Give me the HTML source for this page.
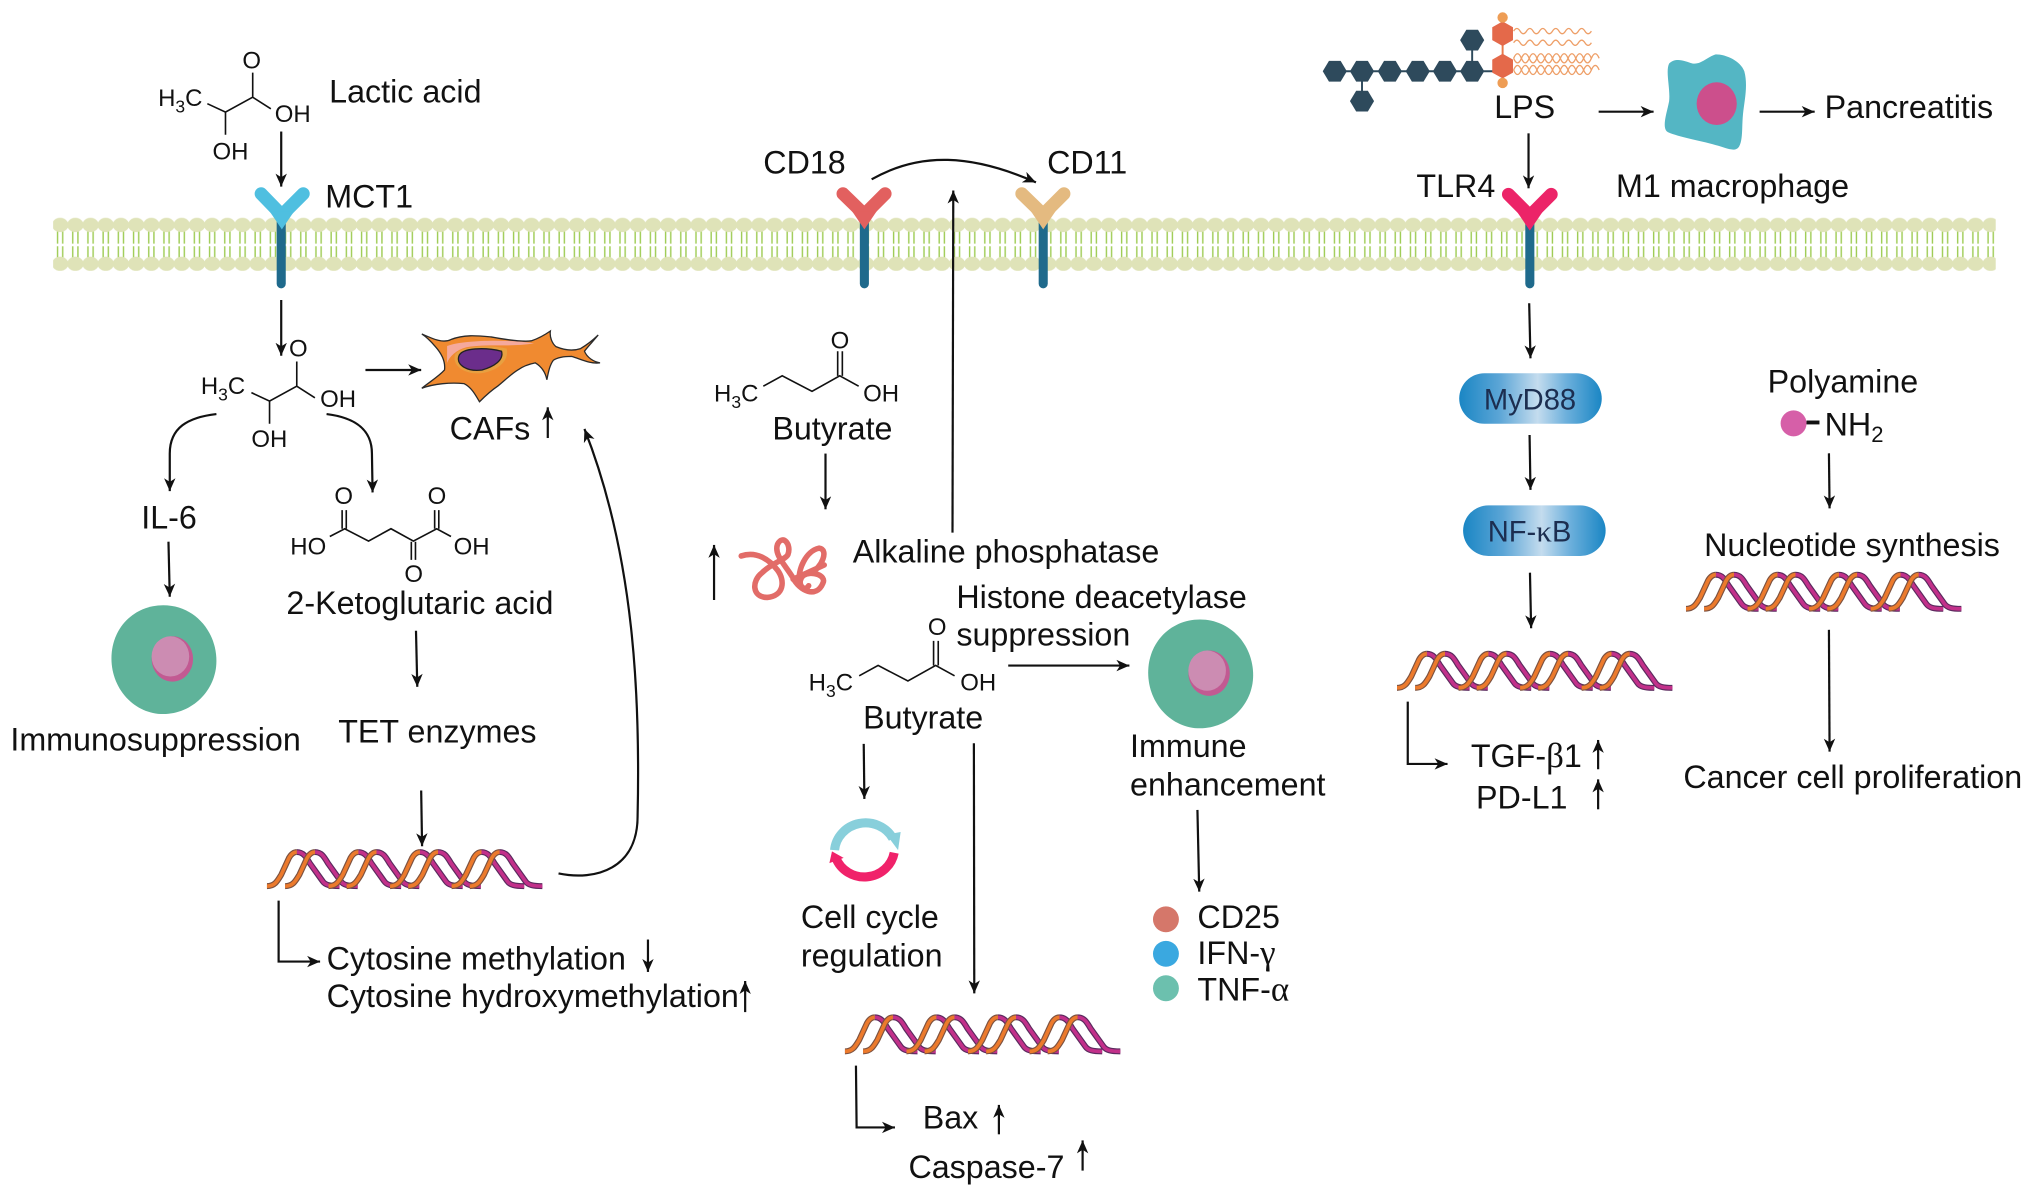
<!DOCTYPE html>
<html><head><meta charset="utf-8"><title>Diagram</title>
<style>
html,body{margin:0;padding:0;background:#fff;width:2032px;height:1196px;overflow:hidden}
svg{display:block}
text{font-family:"Liberation Sans",sans-serif;fill:#111;font-size:24.9px}
.c text,text.c{font-size:18.5px}
.g{font-family:"Liberation Serif",serif;font-size:27px}
.a{fill:none;stroke:#111;stroke-width:1.7;marker-end:url(#m)}
.b{fill:none;stroke:#111;stroke-width:1.25}
</style></head><body>
<svg width="2032" height="1196" viewBox="0 0 1568 922.9" preserveAspectRatio="none" xmlns="http://www.w3.org/2000/svg">
<defs>
<marker id="m" markerUnits="userSpaceOnUse" markerWidth="12" markerHeight="12" refX="10" refY="5" orient="auto"><path d="M0 .6L10 5L0 9.4L2.8 5Z" fill="#111"/></marker>
<pattern id="mem" patternUnits="userSpaceOnUse" x="40.5" y="168" width="11.73" height="41">
<g stroke="#9fcc55" stroke-width="1.1"><path d="M3.900 10.500V20M7.900 10.500V20M3.900 22V31M7.900 22V31"/></g>
<ellipse cx="5.9" cy="5.6" rx="6.3" ry="5.5" fill="#dfe3b8"/><ellipse cx="5.9" cy="35.6" rx="6.3" ry="5.5" fill="#dfe3b8"/>
</pattern>
<linearGradient id="pill" x1="0" x2="1" y1="0" y2="0"><stop offset="0" stop-color="#1a86c4"/><stop offset=".28" stop-color="#5ba5d6"/><stop offset=".55" stop-color="#c4dcee"/><stop offset=".75" stop-color="#6db0dc"/><stop offset="1" stop-color="#1a86c4"/></linearGradient>
<g id="fall"><path d="M23 1.500C28 1.500 30 5 33 10L43 24C45 27 49 27.800 56 27.800"/></g>
<g id="rise"><path d="M0 27.800C6 27.800 8 24 11 19L17 6C19 2.500 21 1.500 23 1.500"/></g>
<g id="fs"><use href="#fall" x="0"/><use href="#fall" x="14"/><use href="#fall" x="47.5"/><use href="#fall" x="61.5"/><use href="#fall" x="95"/><use href="#fall" x="109"/><use href="#fall" x="142.5"/><use href="#fall" x="156.5"/></g>
<g id="rs"><use href="#rise" x="0"/><use href="#rise" x="14"/><use href="#rise" x="47.5"/><use href="#rise" x="61.5"/><use href="#rise" x="95"/><use href="#rise" x="109"/><use href="#rise" x="142.5"/><use href="#rise" x="156.5"/></g>
<g id="dna" fill="none">
<use href="#fs" stroke="#5b2a5e" stroke-width="4.6"/><use href="#fs" stroke="#c2308a" stroke-width="2.8"/>
<use href="#rs" stroke="#7d5240" stroke-width="4.6"/><use href="#rs" stroke="#ec7a2c" stroke-width="2.8"/>
</g>
<g id="cell">
<path d="M126 467C150 467 167 487 167 510C167 533 148 551 126 551C104 551 86 532 86 508C86 485 103 467 126 467Z" fill="#5fb39a"/>
<ellipse cx="133" cy="508.5" rx="16" ry="17.5" fill="#c25a92"/>
<ellipse cx="131.5" cy="506.5" rx="14.5" ry="15.5" fill="#cc8cb2"/>
</g>
<g id="mol1" class="b">
<path d="M160 80L174 86.500L195 75L209 84M174 86.500V104M195 75V56"/>
</g>
<g id="but" class="b">
<path d="M589 298L603.600 290L626.600 302L648 290L662.600 298M646.400 271V290M650 271V290"/>
</g>
</defs>
<rect width="1568" height="923" fill="#fff"/>
<rect x="41" y="168" width="1499" height="41" fill="url(#mem)"/>

<!-- receptors -->
<g fill="none" stroke-linecap="round" stroke-linejoin="miter">
<path d="M667 170V219" stroke="#1f6a8c" stroke-width="7"/>
<path d="M805 170V219" stroke="#1f6a8c" stroke-width="7"/>
<path d="M217 170V219" stroke="#1f6a8c" stroke-width="7"/>
<path d="M1180.500 170V219" stroke="#1f6a8c" stroke-width="7"/>
<path d="M201.500 149.500L217.500 166L234 149.500" stroke="#4fbfe0" stroke-width="10"/>
<path d="M650.500 149.500L667 165.500L683 149.500" stroke="#e2605f" stroke-width="10"/>
<path d="M788.500 149.500L805 165.500L821 149.500" stroke="#e4ba80" stroke-width="10"/>
<path d="M1164 150L1180.500 166.500L1197 150" stroke="#ec2468" stroke-width="10"/>
</g>
<path d="M208 163L227 163L217.500 177Z" fill="#4fbfe0"/>
<path d="M657.500 163L676.500 163L667 177Z" fill="#e2605f"/>
<path d="M795.500 163L814.500 163L805 177Z" fill="#e4ba80"/>
<path d="M1171 164L1190 164L1180.500 178Z" fill="#ec2468"/>

<!-- lactic acid -->
<use href="#mol1"/>
<text class="c" x="122" y="82">H<tspan font-size="13.500" dy="5">3</tspan><tspan dy="-5">C</tspan></text>
<text class="c" x="187" y="53">O</text><text class="c" x="212" y="94">OH</text><text class="c" x="164" y="123">OH</text>
<use href="#mol1" x="34" y="223"/>
<text class="c" x="155" y="304">H<tspan font-size="13.500" dy="5">3</tspan><tspan dy="-5">C</tspan></text>
<text class="c" x="223" y="275">O</text><text class="c" x="247" y="314">OH</text><text class="c" x="194" y="345">OH</text>

<!-- keto -->
<g class="b"><path d="M254.500 414L266 408L284.400 417.500L301.700 408L319 417.500L337 408L348 414M264 393.600V408M267.200 393.600V408M335.400 393.600V408M338.600 393.600V408M317.400 418V432M320.600 418V432"/></g>
<text class="c" x="224" y="428">HO</text><text class="c" x="258" y="389">O</text><text class="c" x="330" y="389">O</text><text class="c" x="350" y="428">OH</text><text class="c" x="312" y="449">O</text>

<!-- butyrate -->
<use href="#but"/>
<text class="c" x="551" y="310">H<tspan font-size="13.500" dy="5">3</tspan><tspan dy="-5">C</tspan></text>
<text class="c" x="641" y="269">O</text><text class="c" x="666" y="310">OH</text>
<use href="#but" x="74" y="223.500"/>
<text class="c" x="624" y="533">H<tspan font-size="13.500" dy="5">3</tspan><tspan dy="-5">C</tspan></text>
<text class="c" x="716" y="490">O</text><text class="c" x="741" y="533">OH</text>

<!-- CAF -->
<path d="M325.500 257.700C335 262 342 265 348 262C358 258 368 259 379 260C390 262 402 264 410 263C416 261 421 258 424.700 255.400C424 260 426 265 429 267.500C435 270 442 271 448 269C453 266 458 262 461.600 258.500C458 263 454 267 451 271C453 276 458 279 463 280C455 281 448 277 441 275C435 275 430 276 427 278C424 282 423 288 422 293C421 288 418 283 413 280C408 281 403 283 399.600 285.500C394 289 389 294 384 298C378 302 374 306 370 310C367 305 364 299 358 296C348 295 335 296 325.500 299.600C331 295 338 291 343 285.500C344 278 340 272 336 267.500C333 264 329 260 325.500 257.700Z" fill="#f08a30" stroke="#2a2a2a" stroke-width="1"/>
<path d="M345 267C358 262 395 262 412 265C395 268 375 265 360 268C352 270 347 275 345 280Z" fill="#f5a99c"/>
<path d="M351 274C354 267 378 266 391 269C393 278 385 286 371 288C358 289 349 282 351 274Z" fill="#e8a040"/>
<path d="M354 275C356 268 375 268 387 271C389 278 381 283 372 285.500C361 287 352 282 354 275Z" fill="#6b2d8b" stroke="#222" stroke-width="1"/>

<!-- LPS -->
<g stroke="#2e4a5c" stroke-width="1.500"><path d="M1030 55H1160M1051 55V78M1136 55V31"/></g>
<g fill="#2e4a5c">
<path id="h" d="M1020.700 55L1025.500 47H1034.500L1039.300 55L1034.500 63H1025.500Z"/>
<use href="#h" x="21"/><use href="#h" x="42.500"/><use href="#h" x="64"/><use href="#h" x="85"/><use href="#h" x="106"/>
<use href="#h" x="106" y="-24"/><use href="#h" x="21" y="23"/>
</g>
<path d="M1159.500 14V64" stroke="#e87a4a" stroke-width="1.500"/>
<g fill="#e4694a"><path id="oh" d="M1159.500 16.500L1167.500 21V31L1159.500 35.500L1151.500 31V21Z"/><use href="#oh" y="25"/></g>
<circle cx="1159.500" cy="13.500" r="4" fill="#ee9d55"/><circle cx="1159.500" cy="64" r="4" fill="#ee9d55"/>
<g fill="none" stroke="#ee9f68" stroke-width="1">
<path d="M1168 24q2.500-4 5 0q2.500 4 5 0q2.500-4 5 0q2.500 4 5 0q2.500-4 5 0q2.500 4 5 0q2.500-4 5 0q2.500 4 5 0q2.500-4 5 0q2.500 4 5 0q2.500-4 5 0q2.500 4 5 0"/>
<path d="M1168 33q2.500-4 5 0q2.500 4 5 0q2.500-4 5 0q2.500 4 5 0q2.500-4 5 0q2.500 4 5 0q2.500-4 5 0q2.500 4 5 0q2.500-4 5 0q2.500 4 5 0q2.500-4 5 0q2.500 4 5 0"/>
<path d="M1168 45q3-7 6 0q3 7 6 0q3-7 6 0q3 7 6 0q3-7 6 0q3 7 6 0q3-7 6 0q3 7 6 0q3-7 6 0q3 7 6 0q3-7 6 0"/>
<path d="M1168 45q3 7 6 0q3-7 6 0q3 7 6 0q3-7 6 0q3 7 6 0q3-7 6 0q3 7 6 0q3-7 6 0q3 7 6 0q3-7 6 0"/>
<path d="M1168 54q3-7 6 0q3 7 6 0q3-7 6 0q3 7 6 0q3-7 6 0q3 7 6 0q3-7 6 0q3 7 6 0q3-7 6 0q3 7 6 0q3-7 6 0"/>
<path d="M1168 54q3 7 6 0q3-7 6 0q3 7 6 0q3-7 6 0q3 7 6 0q3-7 6 0q3 7 6 0q3-7 6 0q3 7 6 0q3-7 6 0"/>
</g>

<!-- macrophage -->
<path d="M1288 49C1293 44 1300 47 1306 49C1313 50 1317 44 1324 42C1332 42 1343 47 1346 55C1349 66 1346 78 1345 88C1344 98 1345 108 1342 113C1339 118 1332 114 1324 112C1310 108 1296 106 1287 102C1282 99 1286 88 1288 78C1289 68 1285 55 1288 49Z" fill="#54b6c4"/>
<ellipse cx="1324.700" cy="80" rx="15.500" ry="16.500" fill="#cc4f8c"/>

<!-- cells -->
<use href="#cell"/><use href="#cell" x="800" y="11"/>

<!-- tangled protein -->
<path d="M572 429C584 425 594 432 600 440C606 448 605 460 592 461C580 461 580 448 588 442C596 434 606 432 608 428C611 420 604 412 600 420C597 428 606 436 612 446C617 456 630 462 635 450C638 444 626 440 620 444C614 449 620 458 624 452M617 450C615 440 622 425 632 423C640 424 634 438 626 442M636 436L612 447" fill="none" stroke="#e26c68" stroke-width="4.300" stroke-linecap="round"/>

<!-- cell cycle -->
<g fill="none" stroke-width="7">
<path d="M644 656A24 23 0 0 1 689 647" stroke="#88cfdb"/>
<path d="M690 658A23.500 23 0 0 1 645 662" stroke="#f0226a"/>
</g>
<path d="M684 644L695 642L693 656Z" fill="#88cfdb"/><path d="M640 666L642 657L651 662Z" fill="#f0226a"/>

<!-- pills -->
<rect x="1126" y="288" width="110" height="39" rx="19.500" fill="url(#pill)"/>
<rect x="1129" y="390" width="110" height="39" rx="19.500" fill="url(#pill)"/>
<text x="1145" y="316" style="font-size:22.500px;fill:#1c2e50">MyD88</text>
<text x="1148" y="418" style="font-size:22.500px;fill:#1c2e50">NF-<tspan class="g" style="font-size:24px">κ</tspan>B</text>

<!-- polyamine -->
<circle cx="1384" cy="326.700" r="10" fill="#d65fa8"/><path d="M1394 326H1404" stroke="#111" stroke-width="3"/>

<!-- DNA -->
<use href="#dna" x="206" y="656"/><use href="#dna" x="652" y="783.500"/><use href="#dna" x="1078" y="503"/><use href="#dna" x="1301" y="442"/>

<!-- legend dots -->
<circle cx="899.700" cy="709.400" r="10" fill="#d5776a"/><circle cx="899.700" cy="736" r="10" fill="#3aa8e0"/><circle cx="899.700" cy="762.600" r="10" fill="#6cc0ae"/>

<!-- arrows -->
<path class="a" d="M217 101.500V144"/><path class="a" d="M217 231.500V274.500"/><path class="a" d="M282 285.500H325"/>
<path class="a" d="M167 319.500C145 322 131 330 131 350V379"/><path class="a" d="M252 319.500C272 322 287 330 287 350L287.500 380"/>
<path class="a" d="M130 418L131 460.500"/><path class="a" d="M321 486.700L322 530"/><path class="a" d="M325 610L325.700 653"/>
<path class="a" d="M672.600 138.400C710 117 750 119 799.400 140.700"/><path class="a" d="M735 411L735.600 147"/>
<path class="a" d="M637 350V393"/><path class="a" d="M551 463V420.500"/><path class="a" d="M778 513.600H871.500"/>
<path class="a" d="M666.500 574L667 616.500"/><path class="a" d="M751.500 573.500L751.800 766.500"/><path class="a" d="M924 625L925.400 688"/>
<path class="a" d="M660.500 822.300L661 870H690.600"/><path class="a" d="M770.800 875.300V852.600"/><path class="a" d="M835.400 903.300V880"/>
<path class="a" d="M1179.500 102.900V145.300"/><path class="a" d="M1233.600 86.200H1276"/><path class="a" d="M1357.800 86.200H1400.300"/>
<path class="a" d="M1180 234L1181 276.500"/><path class="a" d="M1180.300 335.700L1181 378"/><path class="a" d="M1180.600 441.900L1181.500 484.800"/>
<path class="a" d="M1086.300 541.400V589.500H1117"/><path class="a" d="M1233.200 593.600V571"/><path class="a" d="M1233.200 624.500V601.400"/>
<path class="a" d="M1411.300 349.800L1411.800 392.300"/><path class="a" d="M1411.300 486L1411.800 580"/><path class="a" d="M422.700 338V314.300"/>
<path class="a" d="M500 725V750"/><path class="a" d="M575 781V757"/><path class="a" d="M215 695V742H247"/>
<path class="a" d="M431 674C460 680 492 670 492 630C494 540 490 430 451 331"/>

<!-- labels -->
<text x="254" y="79">Lactic acid</text><text x="251" y="160">MCT1</text>
<text x="589" y="134">CD18</text><text x="808" y="134">CD11</text>
<text x="1153" y="91">LPS</text><text x="1408" y="91">Pancreatitis</text>
<text x="1093" y="152">TLR4</text><text x="1247" y="152">M1 macrophage</text>
<text x="347" y="339">CAFs</text><text x="596" y="339">Butyrate</text>
<text x="1364" y="303">Polyamine</text><text x="1408" y="336">NH<tspan style="font-size:17px" dy="5">2</tspan></text>
<text x="109" y="408">IL-6</text><text x="221" y="474">2-Ketoglutaric acid</text>
<text x="658" y="434">Alkaline phosphatase</text><text x="738" y="469">Histone deacetylase</text><text x="738" y="498">suppression</text>
<text x="1315" y="429">Nucleotide synthesis</text><text x="666" y="562">Butyrate</text>
<text x="8" y="579">Immunosuppression</text><text x="261" y="573">TET enzymes</text>
<text x="872" y="584">Immune</text><text x="872" y="614">enhancement</text>
<text x="1135" y="592">TGF-<tspan class="g">β</tspan>1</text><text x="1139" y="624">PD-L1</text>
<text x="1299" y="608">Cancer cell proliferation</text>
<text x="618" y="716">Cell cycle</text><text x="618" y="746">regulation</text>
<text x="924" y="716">CD25</text><text x="924" y="744">IFN-<tspan class="g">γ</tspan></text><text x="924" y="772">TNF-<tspan class="g">α</tspan></text>
<text x="252" y="748">Cytosine methylation</text><text x="252" y="777">Cytosine hydroxymethylation</text>
<text x="712" y="871">Bax</text><text x="701" y="909">Caspase-7</text>
</svg>
</body></html>
